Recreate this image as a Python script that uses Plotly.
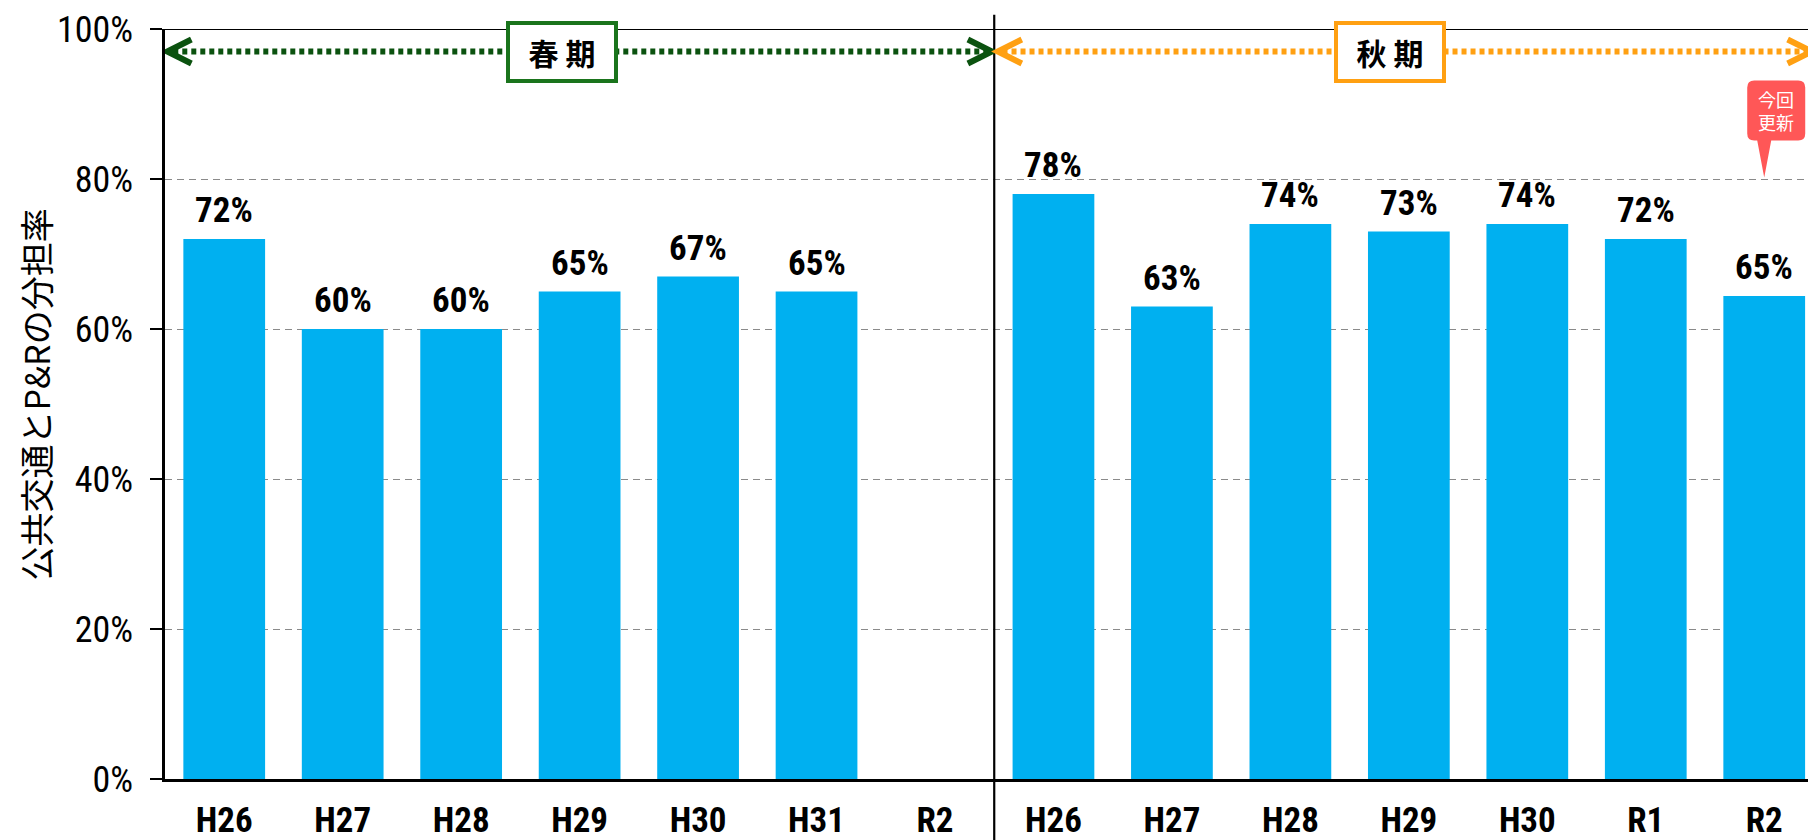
import plotly.graph_objects as go

# ---- data ----
categories = ["H26", "H27", "H28", "H29", "H30", "H31", "R2",
              "H26", "H27", "H28", "H29", "H30", "R1", "R2"]
spring_values = [72, 60, 60, 65, 67, 65, None]
autumn_values = [78, 63, 74, 73, 74, 72, 64.4]
spring_labels = ["72%", "60%", "60%", "65%", "67%", "65%", ""]
autumn_labels = ["78%", "63%", "74%", "73%", "74%", "72%", "65%"]
y_tick_values = [0, 20, 40, 60, 80, 100]
y_tick_labels = ["0%", "20%", "40%", "60%", "80%", "100%"]
period_labels = ["春 期", "秋 期"]
y_title = "公共交通とP&Rの分担率"
callout_text = "今回<br>更新"

values = spring_values + autumn_values
labels = spring_labels + autumn_labels
xpos = list(range(len(categories)))
boundaries = [i - 0.5 for i in range(len(categories) + 1)]

NARROW = "Roboto Condensed, DejaVu Sans Condensed, sans-serif"
CJK = "Noto Sans CJK JP, Noto Sans CJK SC, sans-serif"
XR = [-0.5, 13.437]
BAR = "#00B0F0"
GREEN_LINE = "#0B520F"
GREEN_BOX = "#1A741C"
ORANGE = "#FFA012"
RED = "#FF5757"

fig = go.Figure()
fig.add_trace(go.Bar(x=xpos, y=values, marker=dict(color=BAR, line=dict(width=0)),
                     width=0.69, hoverinfo="skip", showlegend=False))

# data labels
for xi, v, t in zip(xpos, values, labels):
    if v is None or not t:
        continue
    fig.add_annotation(x=xi, y=v, text=t, showarrow=False, yanchor="bottom",
                       yshift=6, font=dict(family=NARROW, size=35, color="black", weight="bold"))

split = len(spring_values) - 0.5

# divider line
fig.add_shape(type="line", xref="x", yref="paper", x0=split, x1=split, y0=-0.09, y1=1.019,
              line=dict(color="black", width=2.2), layer="above")
# top border at 100%
fig.add_shape(type="line", xref="paper", yref="y", x0=0, x1=1, y0=100, y1=100,
              line=dict(color="black", width=2), layer="above")

# dotted arrows
ARROW_Y = 97
fig.add_shape(type="line", xref="x", yref="y", x0=-0.5 + 0.07, x1=split - 0.07, y0=ARROW_Y, y1=ARROW_Y,
              line=dict(color=GREEN_LINE, width=6, dash="5px,4px"), layer="above")
fig.add_shape(type="line", xref="x", yref="y", x0=split + 0.07, x1=13.35, y0=ARROW_Y, y1=ARROW_Y,
              line=dict(color=ORANGE, width=6, dash="5px,4px"), layer="above")

def chevron(xa, direction, color):
    d = 24 * direction
    fig.add_shape(type="path", xref="x", yref="y", xsizemode="pixel", ysizemode="pixel",
                  xanchor=xa, yanchor=ARROW_Y,
                  path=f"M {d},12 L 0,0 L {d},-12", line=dict(color=color, width=6),
                  layer="above")

chevron(-0.5 + 0.02, 1, GREEN_LINE)
chevron(split - 0.02, -1, GREEN_LINE)
chevron(split + 0.03, 1, ORANGE)
chevron(13.40, -1, ORANGE)

# period boxes
for xc, txt, col in [(2.85, period_labels[0], GREEN_BOX), (9.84, period_labels[1], ORANGE)]:
    fig.add_annotation(x=xc, y=ARROW_Y, text=f"<b>{txt}</b>", showarrow=False,
                       font=dict(family=CJK, size=30, color="black"),
                       bgcolor="white", bordercolor=col, borderwidth=4, borderpad=0,
                       width=104, height=54)

# callout "今回更新"
fig.add_shape(type="path", xref="x", yref="y", xsizemode="pixel", ysizemode="pixel",
              xanchor=13, yanchor=80.2,
              path=("M -7,37 L 0,0 L 7,37 L 34,37 Q 41,37 41,44 L 41,90 Q 41,97 34,97 "
                    "L -10,97 Q -17,97 -17,90 L -17,44 Q -17,37 -10,37 Z"),
              fillcolor=RED, line=dict(width=0), layer="above")
fig.add_annotation(x=13, y=80.2, text=callout_text, showarrow=False, xshift=12, yshift=67,
                   font=dict(family=CJK, size=18, color="white"))

# y title
fig.add_annotation(xref="paper", yref="paper", x=-0.079, y=0.512, xanchor="center",
                   yanchor="middle", text=y_title, textangle=-90, showarrow=False,
                   font=dict(family=CJK, size=34, color="black"))

# the page body has an 8px margin, so the figure is drawn 8px smaller
fig.update_layout(
    width=1808, height=832,
    margin=dict(l=157, r=0, t=21, b=61),
    paper_bgcolor="white", plot_bgcolor="white",
    bargap=0.31,
    xaxis=dict(range=XR, tickvals=xpos, ticktext=categories, ticks="", automargin=False,
               tickfont=dict(family=NARROW, size=35, color="black", weight="bold"),
               showgrid=False, zeroline=False, showline=True, linecolor="black", linewidth=3,
               ticklabelstandoff=8),
    xaxis2=dict(range=XR, overlaying="x", anchor="y", tickvals=boundaries, ticks="outside",
                ticklen=11, tickwidth=2, tickcolor="black", showticklabels=False,
                showgrid=False, zeroline=False, showline=False, automargin=False),
    xaxis3=dict(range=XR, overlaying="x", anchor="y", tickvals=boundaries, ticks="inside",
                ticklen=10, tickwidth=2, tickcolor="black", showticklabels=False,
                showgrid=False, zeroline=False, showline=False, automargin=False),
    yaxis=dict(range=[0, 100], tickvals=y_tick_values, ticktext=y_tick_labels,
               ticks="outside", ticklen=12, tickwidth=2, tickcolor="black", automargin=False,
               tickfont=dict(family=NARROW, size=36, color="black"),
               showgrid=True, gridcolor="#8a8a8a", gridwidth=1.3, griddash="7px,5px",
               zeroline=False, showline=True, linecolor="black", linewidth=2.5,
               ticklabelstandoff=10),
    yaxis2=dict(range=[0, 100], overlaying="y", anchor="x", side="left",
                tickvals=y_tick_values, ticks="inside", ticklen=8, tickwidth=2,
                tickcolor="black", showticklabels=False, showgrid=False, zeroline=False,
                showline=False, automargin=False),
)

fig.write_html("out.html")
